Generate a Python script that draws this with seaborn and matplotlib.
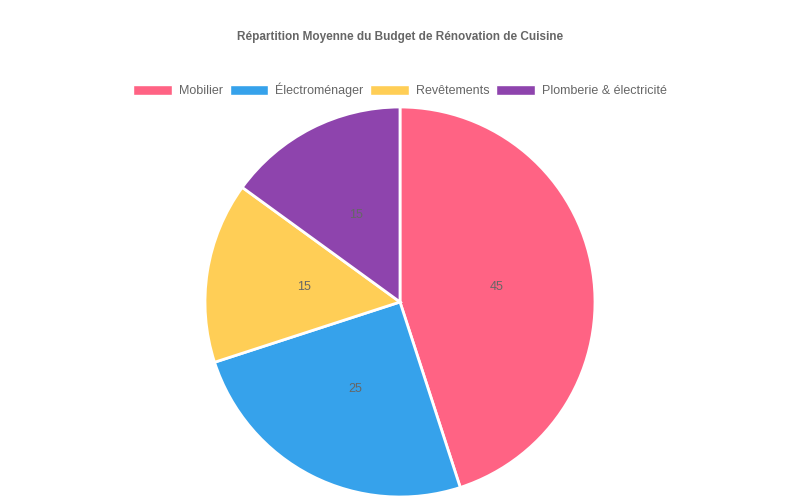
import matplotlib
matplotlib.use("Agg")
import matplotlib.pyplot as plt
import matplotlib.patches as mpatches
import seaborn as sns

# data
categories = ["Mobilier", "Électroménager", "Revêtements", "Plomberie & électricité"]
values = [45, 25, 15, 15]
colors = ["#FF6384", "#36A2EB", "#FFCE56", "#8E44AD"]
title = "Répartition Moyenne du Budget de Rénovation de Cuisine"

sns.set_theme(style="white")
plt.rcParams["font.family"] = ["Liberation Sans", "DejaVu Sans"]

fig = plt.figure(figsize=(8, 5), dpi=100)
fig.patch.set_facecolor("white")

# square axes so the pie sits at (400, 302) with radius ~195 px
ax = fig.add_axes([205 / 800, 3 / 500, 390 / 800, 390 / 500])
wedges, texts = ax.pie(
    values,
    colors=colors,
    startangle=90,
    counterclock=False,
    labels=[str(v) for v in values],
    labeldistance=0.5,
    wedgeprops=dict(edgecolor="white", linewidth=2),
    textprops=dict(color="#666666", fontsize=9),
)
for t in texts:
    t.set_horizontalalignment("center")
    t.set_verticalalignment("center")
ax.set_xlim(-1.0, 1.0)
ax.set_ylim(-1.0, 1.0)
ax.set_aspect("equal")

fig.text(0.5, 1 - 37 / 500, title, ha="center", va="center",
         fontsize=8.5, fontweight="bold", color="#666666")

handles = [mpatches.Patch(facecolor=c, edgecolor="white", label=l)
           for c, l in zip(colors, categories)]
leg = fig.legend(handles=handles, loc="center", bbox_to_anchor=(0.5, 1 - 90 / 500),
                 ncol=4, frameon=False, fontsize=9, handlelength=3.1,
                 handleheight=0.9, handletextpad=0.55, columnspacing=0.55)
for t in leg.get_texts():
    t.set_color("#666666")

fig.savefig("out.png", dpi=100)
